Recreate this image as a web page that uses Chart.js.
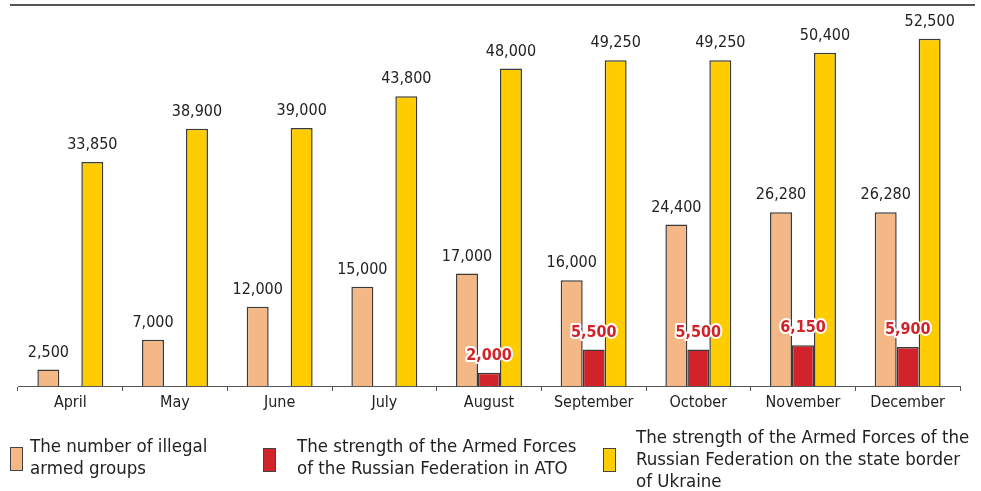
<!DOCTYPE html>
<html>
<head>
<meta charset="utf-8">
<script src="https://cdn.jsdelivr.net/npm/chart.js@4.4.0/dist/chart.umd.min.js"></script>
<style>
  body { margin: 0; background: #fff; }
  #wrap { position: relative; width: 981px; height: 420px; }
  .legend { position: absolute; top: 0; left: 0; width: 981px; height: 491px; pointer-events: none;
    font-family: "Liberation Sans Narrow", "DejaVu Sans Condensed", "Arial Narrow", sans-serif;
    font-size: 18.5px; color: #222; line-height: 22px; }
  .item { position: absolute; }
  .box { position: absolute; width: 11px; height: 22px; border: 1px solid #444; }
  .txt { position: absolute; white-space: nowrap; }
</style>
</head>
<body>
<div id="wrap"><canvas id="barChart" width="981" height="420"></canvas></div>
<div class="legend" id="legend"></div>
<script>
// chart data
var months = ['April', 'May', 'June', 'July', 'August', 'September', 'October', 'November', 'December'];
var illegalGroups = [2500, 7000, 12000, 15000, 17000, 16000, 24400, 26280, 26280];
var forcesInATO = [null, null, null, null, 2000, 5500, 5500, 6150, 5900];
var forcesOnBorder = [33850, 38900, 39000, 43800, 48000, 49250, 49250, 50400, 52500];
var seriesNames = [
    ['The number of illegal', 'armed groups'],
    ['The strength of the Armed Forces', 'of the Russian Federation in ATO'],
    ['The strength of the Armed Forces of the', 'Russian Federation on the state border', 'of Ukraine']
];
var seriesColors = ['#F4B886', '#D2232A', '#FFCC00'];

var fontFamily = '"Liberation Sans Narrow", "DejaVu Sans Condensed", "Arial Narrow", sans-serif';

function fmt(v) {
    return v.toLocaleString('en-US');
}

// value labels above bars + top rule
var labelPlugin = {
    id: 'valueLabels',
    beforeDraw: function(chart) {
        var ctx = chart.ctx;
        ctx.save();
        ctx.strokeStyle = '#555';
        ctx.lineWidth = 2;
        ctx.beginPath();
        ctx.moveTo(10, 5);
        ctx.lineTo(975, 5);
        ctx.stroke();
        ctx.restore();
    },
    afterDatasetsDraw: function(chart) {
        var ctx = chart.ctx;
        ctx.save();
        ctx.textAlign = 'center';
        ctx.textBaseline = 'middle';
        chart.data.datasets.forEach(function(ds, i) {
            var meta = chart.getDatasetMeta(i);
            meta.data.forEach(function(bar, j) {
                var v = ds.data[j];
                if (v === null) return;
                var y = bar.y - 17;
                if (i === 1) {
                    ctx.font = 'bold 16px ' + fontFamily;
                    ctx.lineJoin = 'round';
                    ctx.lineWidth = 4;
                    ctx.strokeStyle = '#fff';
                    ctx.strokeText(fmt(v), bar.x, y);
                    ctx.fillStyle = '#D2232A';
                    ctx.fillText(fmt(v), bar.x, y);
                } else {
                    ctx.font = '16px ' + fontFamily;
                    ctx.fillStyle = '#222';
                    ctx.fillText(fmt(v), bar.x, y);
                }
            });
        });
        ctx.restore();
    }
};

var datasets = [illegalGroups, forcesInATO, forcesOnBorder].map(function(d, i) {
    return {
        label: seriesNames[i].join(' '),
        data: d,
        backgroundColor: seriesColors[i],
        borderColor: '#3a3a3a',
        borderWidth: 1.5,
        barPercentage: 1.0,
        categoryPercentage: 0.63
    };
});

var ctx = document.getElementById('barChart').getContext('2d');
window.myChart = new Chart(ctx, {
    type: 'bar',
    data: { labels: months, datasets: datasets },
    plugins: [labelPlugin],
    options: {
        responsive: false,
        animation: false,
        layout: { padding: { left: 18, right: 21, top: 5, bottom: 0 } },
        plugins: { legend: { display: false }, tooltip: { enabled: false } },
        scales: {
            x: {
                grid: { display: true, drawOnChartArea: false, drawTicks: true, tickLength: 5, color: '#555' },
                border: { color: '#555', width: 1 },
                ticks: { color: '#222', font: { family: fontFamily, size: 16 }, padding: 2 },
                afterFit: function(s) { s.height = 34; }
            },
            y: {
                display: false,
                min: 0,
                max: 57600
            }
        }
    }
});

// legend
var legendPos = [
    { box: [10, 447], txt: [30, 435] },
    { box: [263, 448], txt: [297, 435] },
    { box: [603, 448], txt: [636, 426] }
];
var legend = document.getElementById('legend');
seriesNames.forEach(function(lines, i) {
    var b = document.createElement('div');
    b.className = 'box';
    b.style.left = legendPos[i].box[0] + 'px';
    b.style.top = legendPos[i].box[1] + 'px';
    b.style.background = seriesColors[i];
    legend.appendChild(b);
    var t = document.createElement('div');
    t.className = 'txt';
    t.style.left = legendPos[i].txt[0] + 'px';
    t.style.top = legendPos[i].txt[1] + 'px';
    t.innerHTML = lines.join('<br>');
    legend.appendChild(t);
});
</script>
</body>
</html>
